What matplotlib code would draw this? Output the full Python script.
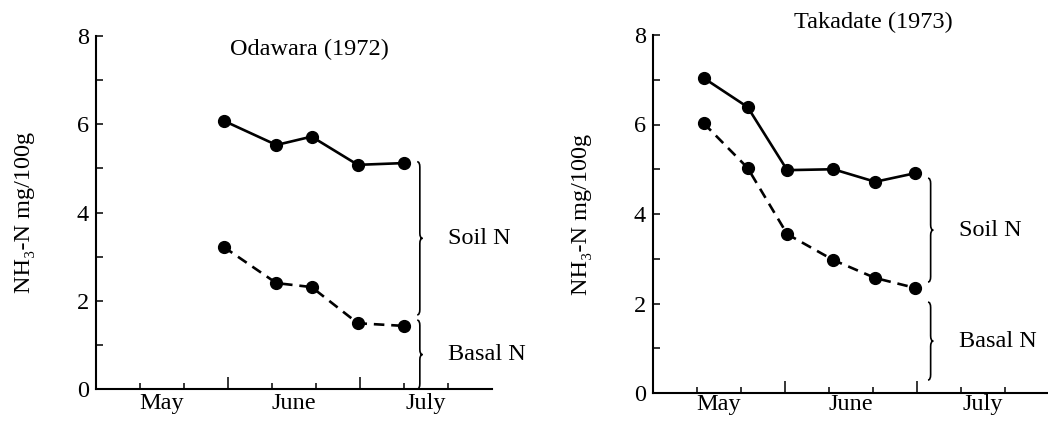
import matplotlib.pyplot as plt
from matplotlib.path import Path
from matplotlib.patches import PathPatch

plt.rcParams['font.family'] = ['Liberation Serif', 'DejaVu Serif']

# x is in 10-day periods from May 1 (3 per month)
months = ['May', 'June', 'July']

odawara_x = [2.9, 4.1, 4.9, 5.95, 7.0]
odawara_total = [6.08, 5.53, 5.72, 5.08, 5.12]
odawara_basal = [3.22, 2.40, 2.31, 1.49, 1.43]

takadate_x = [1.15, 2.15, 3.05, 4.1, 5.05, 5.95]
takadate_total = [7.04, 6.39, 4.98, 5.0, 4.72, 4.91]
takadate_basal = [6.03, 5.03, 3.55, 2.97, 2.57, 2.35]

# bracket ranges (y from, y to) and labels
odawara_braces = [(1.68, 5.15, 'Soil N'), (0.0, 1.56, 'Basal N')]
takadate_braces = [(2.48, 4.8, 'Soil N'), (0.29, 2.03, 'Basal N')]

FS = 17.5


def brace(ax, x0, y0, y1, w=0.12):
    xm = x0 + w / 2
    ym = (y0 + y1) / 2
    d = 0.12
    verts = [(x0, y1), (xm, y1), (xm, y1 - d),
             (xm, ym + d),
             (xm, ym), (x0 + w, ym),
             (xm, ym), (xm, ym - d),
             (xm, y0 + d),
             (xm, y0), (x0, y0)]
    codes = [Path.MOVETO, Path.CURVE3, Path.CURVE3,
             Path.LINETO,
             Path.CURVE3, Path.CURVE3,
             Path.CURVE3, Path.CURVE3,
             Path.LINETO,
             Path.CURVE3, Path.CURVE3]
    ax.add_patch(PathPatch(Path(verts, codes), fc='none', ec='black',
                           lw=1.2, clip_on=False))


def panel(ax, x, total, basal, braces, title, title_pos, brace_x, text_x,
          month_y):
    ax.plot(x, total, '-', color='black', lw=1.9, marker='o', ms=8.5,
            mfc='black', mec='black', clip_on=False)
    ax.plot(x, basal, '--', color='black', lw=1.9, dashes=(4, 2.6),
            marker='o', ms=8.5, mfc='black', mec='black', clip_on=False)
    ax.set_xlim(0, 9)
    ax.set_ylim(0, 8)
    for s in ['top', 'right']:
        ax.spines[s].set_visible(False)
    for s in ['left', 'bottom']:
        ax.spines[s].set_linewidth(1.5)
    ax.set_yticks(range(0, 9, 2))
    ax.set_yticks(range(1, 9, 2), minor=True)
    ax.tick_params(axis='y', which='both', direction='in', length=5,
                   width=1.1, labelsize=FS, pad=5)
    ax.set_xticks([3, 6], ['', ''])
    ax.set_xticks([1, 2, 4, 5, 7, 8], minor=True)
    ax.tick_params(axis='x', which='major', direction='in', length=9, width=1.1)
    ax.tick_params(axis='x', which='minor', direction='in', length=4, width=1.1)
    for i, m in enumerate(months):
        ax.text(1.5 + 3 * i, month_y, m, ha='center', va='top', fontsize=FS,
                transform=ax.get_xaxis_transform())
    for y0, y1, lab in braces:
        brace(ax, brace_x, y0, y1)
        ax.text(text_x, (y0 + y1) / 2, lab, ha='left', va='center',
                fontsize=FS, clip_on=False)
    ax.text(title_pos[0], title_pos[1], title, ha='center', va='center',
            fontsize=FS, transform=ax.transAxes)
    ax.set_ylabel('NH₃-N mg/100g', fontsize=FS)
    ax.yaxis.set_label_coords(-0.155, 0.5)


fig = plt.figure(figsize=(10.48, 4.24), dpi=100)
ax1 = fig.add_axes([96 / 1048, 1 - 389 / 424, 396 / 1048, 353 / 424])
ax2 = fig.add_axes([653 / 1048, 1 - 393 / 424, 396 / 1048, 358 / 424])

panel(ax1, odawara_x, odawara_total, odawara_basal, odawara_braces,
      'Odawara (1972)', (0.538, 0.963), 7.3, 8.0, -0.01)
panel(ax2, takadate_x, takadate_total, takadate_basal, takadate_braces,
      'Takadate (1973)', (0.556, 1.036), 6.25, 6.95, -0.004)

fig.savefig('out.png', dpi=100)
